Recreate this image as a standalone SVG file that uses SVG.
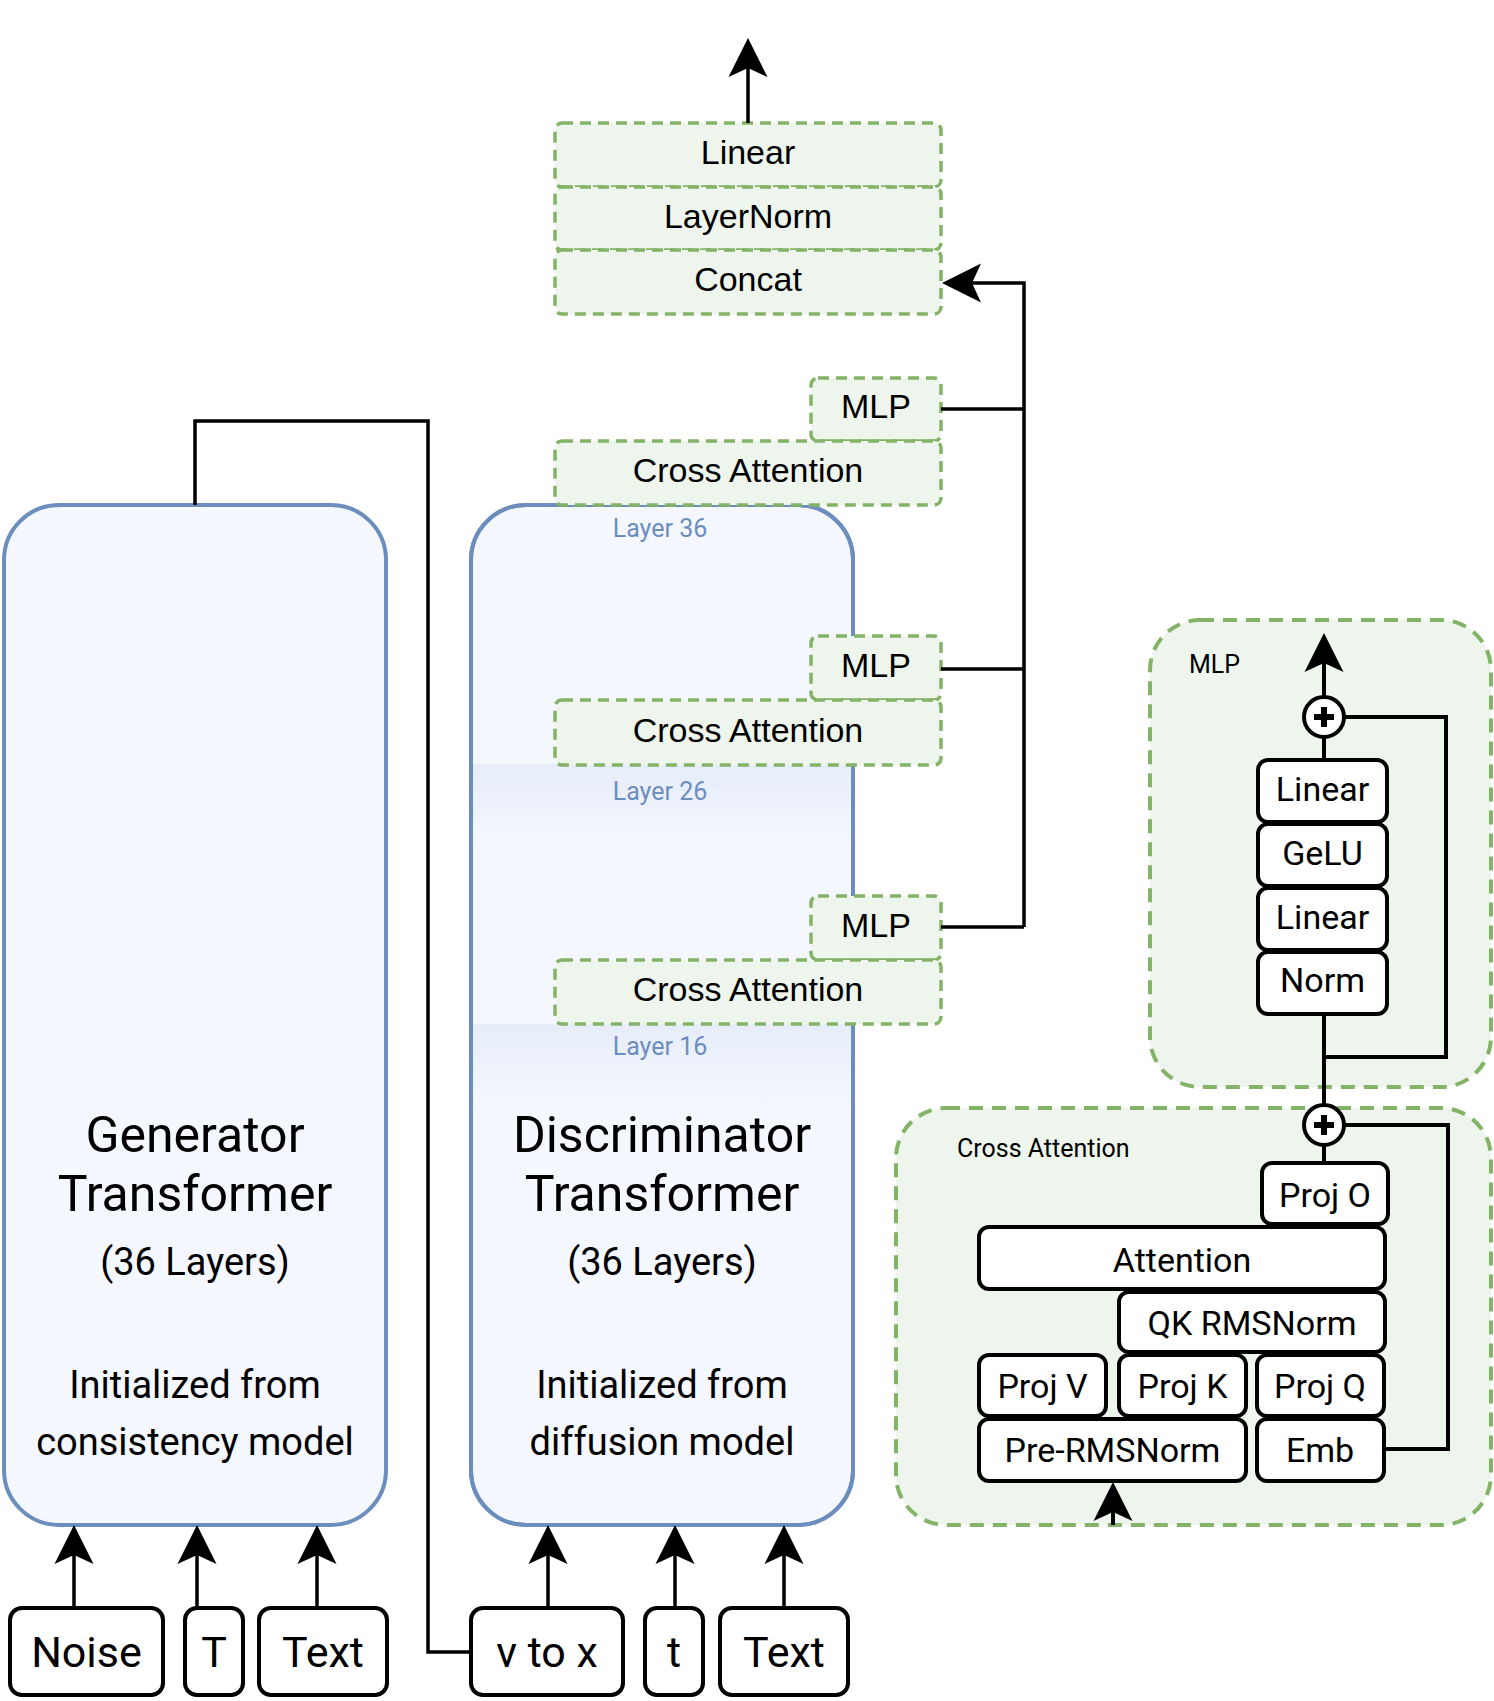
<svg xmlns="http://www.w3.org/2000/svg" xmlns:xlink="http://www.w3.org/1999/xlink" width="1494" height="1701" viewBox="0 0 1494 1701">
<style>
.big{fill:#f4f7fe;stroke:#6c8ebf;stroke-width:4}
.bigline{fill:none;stroke:#6c8ebf;stroke-width:4}
.gbox{fill:#eef5ec;stroke:#82b366;stroke-width:3.5;stroke-dasharray:11 7}
.cont{fill:#eef5ec;stroke:#82b366;stroke-width:4;stroke-dasharray:14 9}
.bbox{fill:#ffffff;stroke:#000000;stroke-width:4}
.ln{fill:none;stroke:#000000;stroke-width:3.5}
.ln4{fill:none;stroke:#000000;stroke-width:4}
.ah{fill:#000000;stroke:none}
.tA{font-family:'Liberation Sans',Arial,sans-serif;font-size:34px;fill:#000;text-anchor:middle}
.tR{font-family:Roboto,'Liberation Sans',sans-serif;fill:#000;text-anchor:middle}
.lay{font-family:Roboto,'Liberation Sans',sans-serif;font-size:25px;fill:#6c8ebf;text-anchor:middle}
.lab{font-family:Roboto,'Liberation Sans',sans-serif;font-size:25px;fill:#000}
.plus{fill:none;stroke:#000;stroke-width:6}
</style>
<defs>
<path id="ah" d="M0,0 L-19.5,39 L0,30 L19.5,39 Z"/>
<linearGradient id="band" x1="0" y1="0" x2="0" y2="1">
<stop offset="0" stop-color="#e6edf9"/>
<stop offset="1" stop-color="#f4f7fe"/>
</linearGradient>
<clipPath id="discClip"><rect x="471" y="505" width="382" height="1020" rx="55"/></clipPath>
</defs>

<g id="generator">
<rect class="big" x="4" y="505" width="382" height="1020" rx="55"/>
<text class="tR" x="195" y="1152" font-size="50">Generator</text>
<text class="tR" x="195" y="1211" font-size="50">Transformer</text>
<text class="tR" x="195" y="1275" font-size="38">(36 Layers)</text>
<text class="tR" x="195" y="1398" font-size="38">Initialized from</text>
<text class="tR" x="195" y="1455" font-size="38">consistency model</text>
</g>

<g id="discriminator">
<rect class="big" x="471" y="505" width="382" height="1020" rx="55"/>
<g clip-path="url(#discClip)">
<rect x="471" y="764" width="382" height="85" fill="url(#band)"/>
<rect x="471" y="1024" width="382" height="85" fill="url(#band)"/>
</g>
<rect class="bigline" x="471" y="505" width="382" height="1020" rx="55"/>
<text class="tR" x="662" y="1152" font-size="50">Discriminator</text>
<text class="tR" x="662" y="1211" font-size="50">Transformer</text>
<text class="tR" x="662" y="1275" font-size="38">(36 Layers)</text>
<text class="tR" x="662" y="1398" font-size="38">Initialized from</text>
<text class="tR" x="662" y="1455" font-size="38">diffusion model</text>
<text class="lay" x="660" y="537">Layer 36</text>
<text class="lay" x="660" y="800">Layer 26</text>
<text class="lay" x="660" y="1055">Layer 16</text>
</g>

<g id="head">
<rect class="gbox" x="555" y="123" width="386" height="64" rx="7"/>
<text class="tA" x="748" y="164">Linear</text>
<rect class="gbox" x="555" y="187" width="386" height="63" rx="7"/>
<text class="tA" x="748" y="228">LayerNorm</text>
<rect class="gbox" x="555" y="250" width="386" height="64" rx="7"/>
<text class="tA" x="748" y="291">Concat</text>
</g>

<g id="layer36">
<rect class="gbox" x="811" y="378" width="130" height="63" rx="7"/>
<text class="tA" x="876" y="418">MLP</text>
<rect class="gbox" x="555" y="441" width="386" height="64" rx="7"/>
<text class="tA" x="748" y="482">Cross Attention</text>
</g>

<g id="layer26">
<rect class="gbox" x="811" y="636" width="130" height="64" rx="7"/>
<text class="tA" x="876" y="677">MLP</text>
<rect class="gbox" x="555" y="700" width="386" height="65" rx="7"/>
<text class="tA" x="748" y="742">Cross Attention</text>
</g>

<g id="layer16">
<rect class="gbox" x="811" y="896" width="130" height="64" rx="7"/>
<text class="tA" x="876" y="937">MLP</text>
<rect class="gbox" x="555" y="960" width="386" height="64" rx="7"/>
<text class="tA" x="748" y="1001">Cross Attention</text>
</g>

<g id="mlp-detail-container">
<rect class="cont" x="1150" y="620" width="341" height="467" rx="50"/>
<text class="lab" x="1189" y="673">MLP</text>
</g>

<g id="ca-detail-container">
<rect class="cont" x="896" y="1108" width="595" height="417" rx="50"/>
<text class="lab" x="957" y="1157">Cross Attention</text>
</g>

<g id="connectors">
<path class="ln" d="M195,505 V421 H428 V1652 H471"/>
<path class="ln" d="M748,123 V66"/>
<use href="#ah" class="ah" transform="translate(748,38)"/>
<path class="ln" d="M941,409 H1024 M941,669 H1024 M941,927 H1024 M1024,927 V283 H970"/>
<use href="#ah" class="ah" transform="translate(942,283) rotate(-90)"/>
<path class="ln" d="M74,1608 V1553 M197,1608 V1553 M317,1608 V1553 M548,1608 V1553 M675,1608 V1553 M784,1608 V1553"/>
<use href="#ah" class="ah" transform="translate(74,1525)"/>
<use href="#ah" class="ah" transform="translate(197,1525)"/>
<use href="#ah" class="ah" transform="translate(317,1525)"/>
<use href="#ah" class="ah" transform="translate(548,1525)"/>
<use href="#ah" class="ah" transform="translate(675,1525)"/>
<use href="#ah" class="ah" transform="translate(784,1525)"/>
<path class="ln4" d="M1324,1105 V1014 M1324,1057 H1446 V717 H1344 M1324,760 V737 M1324,697 V661"/>
<use href="#ah" class="ah" transform="translate(1324,633)"/>
<path class="ln4" d="M1324,1145 V1163 M1344,1125 H1448 V1449 H1385 M1113,1525 V1510"/>
<use href="#ah" class="ah" transform="translate(1113,1482)"/>
</g>

<g id="mlp-plus">
<circle cx="1324" cy="717" r="20" fill="#fff" stroke="#000" stroke-width="4"/>
<path class="plus" d="M1314,717 H1334 M1324,707 V727"/>
</g>
<g id="ca-plus">
<circle cx="1324" cy="1125" r="20" fill="#fff" stroke="#000" stroke-width="4"/>
<path class="plus" d="M1314,1125 H1334 M1324,1115 V1135"/>
</g>

<g id="mlp-linear2">
<rect class="bbox" x="1258" y="760" width="129" height="62" rx="10"/>
<text class="tR" x="1322.5" y="801" font-size="34">Linear</text>
</g>
<g id="mlp-gelu">
<rect class="bbox" x="1258" y="824" width="129" height="62" rx="10"/>
<text class="tR" x="1322.5" y="865" font-size="34">GeLU</text>
</g>
<g id="mlp-linear1">
<rect class="bbox" x="1258" y="888" width="129" height="62" rx="10"/>
<text class="tR" x="1322.5" y="929" font-size="34">Linear</text>
</g>
<g id="mlp-norm">
<rect class="bbox" x="1258" y="952" width="129" height="62" rx="10"/>
<text class="tR" x="1322.5" y="992" font-size="34">Norm</text>
</g>

<g id="ca-projo">
<rect class="bbox" x="1262" y="1163" width="126" height="61" rx="10"/>
<text class="tR" x="1325" y="1207" font-size="34">Proj O</text>
</g>
<g id="ca-attention">
<rect class="bbox" x="979" y="1227" width="406" height="62" rx="10"/>
<text class="tR" x="1182" y="1272" font-size="34">Attention</text>
</g>
<g id="ca-qknorm">
<rect class="bbox" x="1119" y="1292" width="266" height="60" rx="10"/>
<text class="tR" x="1252" y="1335" font-size="34">QK RMSNorm</text>
</g>
<g id="ca-projv">
<rect class="bbox" x="979" y="1355" width="127" height="61" rx="10"/>
<text class="tR" x="1042.5" y="1398" font-size="34">Proj V</text>
</g>
<g id="ca-projk">
<rect class="bbox" x="1119" y="1355" width="127" height="61" rx="10"/>
<text class="tR" x="1182.5" y="1398" font-size="34">Proj K</text>
</g>
<g id="ca-projq">
<rect class="bbox" x="1257" y="1355" width="127" height="61" rx="10"/>
<text class="tR" x="1320" y="1398" font-size="34">Proj Q</text>
</g>
<g id="ca-prenorm">
<rect class="bbox" x="979" y="1419" width="267" height="62" rx="10"/>
<text class="tR" x="1112.5" y="1462" font-size="34">Pre-RMSNorm</text>
</g>
<g id="ca-emb">
<rect class="bbox" x="1257" y="1419" width="127" height="62" rx="10"/>
<text class="tR" x="1320" y="1462" font-size="34">Emb</text>
</g>

<g id="in-noise">
<rect class="bbox" x="10" y="1608" width="153" height="87" rx="12"/>
<text class="tR" x="86.5" y="1667" font-size="43">Noise</text>
</g>
<g id="in-T">
<rect class="bbox" x="185" y="1608" width="58" height="87" rx="12"/>
<text class="tR" x="214" y="1667" font-size="43">T</text>
</g>
<g id="in-text-gen">
<rect class="bbox" x="259" y="1608" width="128" height="87" rx="12"/>
<text class="tR" x="323" y="1667" font-size="43">Text</text>
</g>
<g id="in-vtox">
<rect class="bbox" x="471" y="1608" width="152" height="87" rx="12"/>
<text class="tR" x="547" y="1667" font-size="43">v to x</text>
</g>
<g id="in-t">
<rect class="bbox" x="645" y="1608" width="58" height="87" rx="12"/>
<text class="tR" x="674" y="1667" font-size="43">t</text>
</g>
<g id="in-text-disc">
<rect class="bbox" x="720" y="1608" width="128" height="87" rx="12"/>
<text class="tR" x="784" y="1667" font-size="43">Text</text>
</g>
</svg>
